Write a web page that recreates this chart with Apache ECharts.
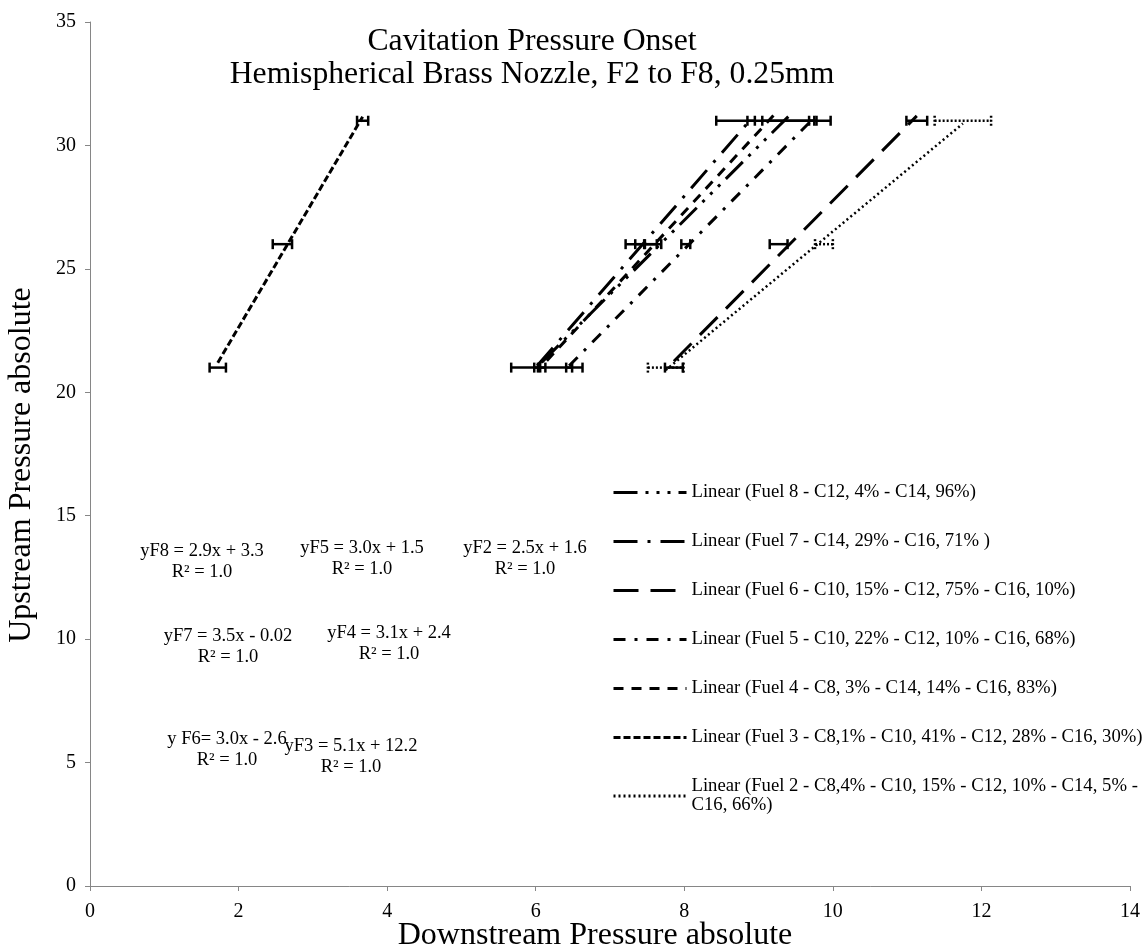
<!DOCTYPE html>
<html>
<head>
<meta charset="utf-8">
<title>Cavitation Pressure Onset</title>
<script src="https://cdn.jsdelivr.net/npm/echarts@6/dist/echarts.min.js"></script>
<style>
  html, body { margin: 0; padding: 0; background: #fff; }
  #chart { width: 1146px; height: 952px; }
</style>
</head>
<body>
<div id="chart"></div>
<script>
// upstream pressure levels (same for every fuel)
const upstream = [21, 26, 31]

// downstream pressure at onset, and half width of the error bar
const fuel2X = [7.75, 9.88, 11.75]
const fuel2Err = [0.24, 0.12, 0.38]
const fuel3X = [1.72, 2.59, 3.67]
const fuel3Err = [0.11, 0.13, 0.075]
const fuel4X = [6.15, 7.45, 9.2]
const fuel4Err = [0.48, 0.24, 0.77]
const fuel5X = [6.45, 8.02, 9.73]
const fuel5Err = [0.04, 0.06, 0.05]
const fuel6X = [7.86, 9.27, 11.13]
const fuel6Err = [0.12, 0.12, 0.14]
const fuel7X = [6.02, 7.4, 8.9]
const fuel7Err = [0.04, 0.06, 0.05]
const fuel8X = [6.08, 7.55, 9.4]
const fuel8Err = [0.05, 0.08, 0.35]

const fuelNames = [
  'Linear (Fuel 8 - C12, 4% - C14, 96%)',
  'Linear (Fuel 7 - C14, 29% - C16, 71% )',
  'Linear (Fuel 6 - C10, 15% - C12, 75% - C16, 10%)',
  'Linear (Fuel 5 - C10, 22% - C12, 10% - C16, 68%)',
  'Linear (Fuel 4 - C8, 3% - C14, 14% - C16, 83%)',
  'Linear (Fuel 3 - C8,1% - C10, 41% - C12, 28% - C16, 30%)',
  'Linear (Fuel 2 - C8,4% - C10, 15% - C12, 10% - C14, 5% - C16, 66%)'
]

const equations = [
  'yF8 = 2.9x + 3.3\nR² = 1.0',
  'yF5 = 3.0x + 1.5\nR² = 1.0',
  'yF2 = 2.5x + 1.6\nR² = 1.0',
  'yF7 = 3.5x - 0.02\nR² = 1.0',
  'yF4 = 3.1x + 2.4\nR² = 1.0',
  'y F6= 3.0x - 2.6\nR² = 1.0',
  'yF3 = 5.1x + 12.2\nR² = 1.0'
]

const FONT = 'Liberation Serif'

// fuel order matches fuelNames
const fuels = [
  { x: fuel8X, err: fuel8Err, dash: [24, 8, 3, 8, 3, 8, 3, 8], width: 3 },
  { x: fuel7X, err: fuel7Err, dash: [24, 10, 3, 10], width: 3 },
  { x: fuel6X, err: fuel6Err, dash: [25, 12], width: 3 },
  { x: fuel5X, err: fuel5Err, dash: [12, 9, 3, 9], width: 3 },
  { x: fuel4X, err: fuel4Err, dash: [10, 8], width: 3 },
  { x: fuel3X, err: fuel3Err, dash: [7, 3], width: 3 },
  { x: fuel2X, err: fuel2Err, dash: [2, 3], width: 2.5, dottedBars: true }
]

// least squares fit, drawn from the smallest to the largest x (like excel)
function trend(xs, ys) {
  const n = xs.length
  const mx = xs.reduce((a, b) => a + b, 0) / n
  const my = ys.reduce((a, b) => a + b, 0) / n
  let sxy = 0
  let sxx = 0
  for (let i = 0; i < n; i++) {
    sxy += (xs[i] - mx) * (ys[i] - my)
    sxx += (xs[i] - mx) * (xs[i] - mx)
  }
  const b = sxy / sxx
  const a = my - b * mx
  const x0 = Math.min.apply(null, xs)
  const x1 = Math.max.apply(null, xs)
  return [[x0, a + b * x0], [x1, a + b * x1]]
}

function errorBars(dotted) {
  return function(params, api) {
    const x = api.value(0)
    const y = api.value(1)
    const e = api.value(2)
    const p1 = api.coord([x - e, y])
    const p2 = api.coord([x + e, y])
    const style = { stroke: '#000', lineWidth: 2.5, lineDash: dotted ? [2, 2] : null }
    const cap = 5
    return {
      type: 'group',
      children: [
        { type: 'line', shape: { x1: p1[0], y1: p1[1], x2: p2[0], y2: p2[1] }, style: style },
        { type: 'line', shape: { x1: p1[0], y1: p1[1] - cap, x2: p1[0], y2: p1[1] + cap }, style: style },
        { type: 'line', shape: { x1: p2[0], y1: p2[1] - cap, x2: p2[0], y2: p2[1] + cap }, style: style }
      ]
    }
  }
}

const series = []
fuels.forEach((f, i) => {
  series.push({
    name: fuelNames[i],
    type: 'line',
    symbol: 'none',
    silent: true,
    data: trend(f.x, upstream),
    lineStyle: { color: '#000', width: f.width, type: f.dash },
    itemStyle: { color: '#000' },
    z: 3
  })
  series.push({
    type: 'custom',
    renderItem: errorBars(f.dottedBars),
    encode: { x: 0, y: 1 },
    data: f.x.map((v, j) => [v, upstream[j], f.err[j]]),
    z: 4
  })
})

// where excel left the trendline labels (pixel centres)
const eqPos = [[202, 562], [362, 559], [525, 559], [228, 647], [389, 644], [227, 750], [351, 757]]

const chart = echarts.init(document.getElementById('chart'))
chart.setOption({
  animation: false,
  backgroundColor: '#fff',
  textStyle: { fontFamily: FONT, color: '#000' },
  title: {
    text: 'Cavitation Pressure Onset\nHemispherical Brass Nozzle, F2 to F8, 0.25mm',
    left: 527,
    top: 20,
    textAlign: 'center',
    textStyle: { fontFamily: FONT, fontWeight: 'normal', fontSize: 31.7, lineHeight: 33, color: '#000' }
  },
  grid: { left: 90, right: 16, top: 22, bottom: 66, containLabel: false, outerBoundsMode: 'none' },
  legend: {
    orient: 'vertical',
    left: 612,
    top: 483,
    padding: 0,
    itemWidth: 73,
    itemHeight: 14,
    itemGap: 30,
    data: fuelNames,
    lineStyle: { width: 3 },
    itemStyle: { opacity: 0 },
    textStyle: { fontFamily: FONT, fontSize: 18.7, color: '#000' },
    formatter: name => name.replace('C14, 5% - ', 'C14, 5% -\n')
  },
  xAxis: {
    type: 'value',
    min: 0,
    max: 14,
    interval: 2,
    name: 'Downstream Pressure absolute',
    nameLocation: 'middle',
    nameGap: 34,
    nameMoveOverlap: false,
    nameTextStyle: { fontFamily: FONT, fontSize: 32, color: '#000', padding: [0, 30, 0, 0] },
    axisLine: { lineStyle: { color: '#868686', width: 1 } },
    axisTick: { show: true, length: 5, lineStyle: { color: '#868686' } },
    axisLabel: { fontFamily: FONT, fontSize: 20, color: '#000', margin: 16 },
    splitLine: { show: false }
  },
  yAxis: {
    type: 'value',
    min: 0,
    max: 35,
    interval: 5,
    name: 'Upstream Pressure absolute',
    nameLocation: 'middle',
    nameGap: 52,
    nameTextStyle: { fontFamily: FONT, fontSize: 32, color: '#000', padding: [0, 22, 0, 0] },
    axisLine: { show: true, lineStyle: { color: '#868686', width: 1 } },
    axisTick: { show: true, length: 5, lineStyle: { color: '#868686' } },
    axisLabel: { fontFamily: FONT, fontSize: 20, color: '#000', margin: 14 },
    splitLine: { show: false }
  },
  graphic: equations.map((t, i) => ({
    type: 'text',
    x: eqPos[i][0],
    y: eqPos[i][1],
    z: 10,
    style: {
      text: t,
      fontFamily: FONT,
      fontSize: 18.5,
      lineHeight: 21,
      fill: '#000',
      align: 'center',
      verticalAlign: 'middle'
    }
  })),
  series: series
})
</script>
</body>
</html>
